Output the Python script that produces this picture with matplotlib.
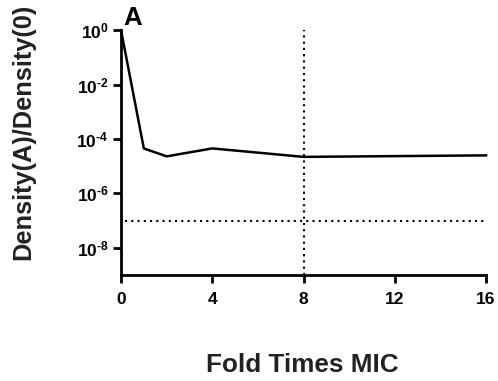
import math
import matplotlib
matplotlib.use("Agg")
import matplotlib.pyplot as plt
from matplotlib.ticker import FixedLocator, FuncFormatter

plt.rcParams['font.family'] = ['Liberation Sans', 'DejaVu Sans']
plt.rcParams['mathtext.fontset'] = 'custom'
plt.rcParams['mathtext.rm'] = 'Liberation Sans:bold'
plt.rcParams['mathtext.bf'] = 'Liberation Sans:bold'
plt.rcParams['mathtext.it'] = 'Liberation Sans:bold'

fold_mic = [0, 1, 2, 4, 8, 16]
density_ratio = [1.0, 4.5e-5, 2.3e-5, 4.5e-5, 2.2e-5, 2.5e-5]
threshold = 1e-7
mic_line = 8
x_ticks = [0, 4, 8, 12, 16]
y_ticks = [1e0, 1e-2, 1e-4, 1e-6, 1e-8]

fig = plt.figure(figsize=(4.98, 3.81), dpi=100)
ax = fig.add_axes([0.243, 0.278, 0.733, 0.643])

ax.plot(fold_mic, density_ratio, color='black', lw=1.8, clip_on=False, zorder=3)
ax.axhline(threshold, xmin=0.01, xmax=1.0, color='black', lw=1.5, ls=(0, (1, 2)))
ax.axvline(mic_line, color='black', lw=1.5, ls=(0, (1, 2)))

ax.set_yscale('log')
ax.set_xlim(0, 16)
ax.set_ylim(1e-9, 1)
ax.xaxis.set_major_locator(FixedLocator(x_ticks))
ax.yaxis.set_major_locator(FixedLocator(y_ticks))
ax.yaxis.set_minor_locator(FixedLocator([]))


def fmt(v, p):
    e = round(math.log10(v))
    return r'$\mathbf{10^{\text{%d}}}$' % e


ax.yaxis.set_major_formatter(FuncFormatter(fmt))

for s in ['top', 'right']:
    ax.spines[s].set_visible(False)
for s in ['left', 'bottom']:
    ax.spines[s].set_linewidth(2)
ax.tick_params(width=2, length=6, labelsize=12.5)
ax.tick_params(axis='x', pad=6)
ax.tick_params(axis='y', pad=3)
for lab in ax.get_xticklabels():
    lab.set_fontweight('bold')

fig.text(302 / 498, 1 - 365 / 381, 'Fold Times MIC', fontsize=18.8, fontweight='bold',
         color='#222222', ha='center', va='center')
fig.text(23 / 498, 1 - 132 / 381, 'Density(A)/Density(0)', fontsize=18.3, fontweight='bold',
         color='#222222', ha='center', va='center', rotation=90)
fig.text(123 / 498, 1 - 18 / 381, 'A', fontsize=18.5, fontweight='bold', ha='left', va='center')

fig.savefig('out.png', dpi=100)
